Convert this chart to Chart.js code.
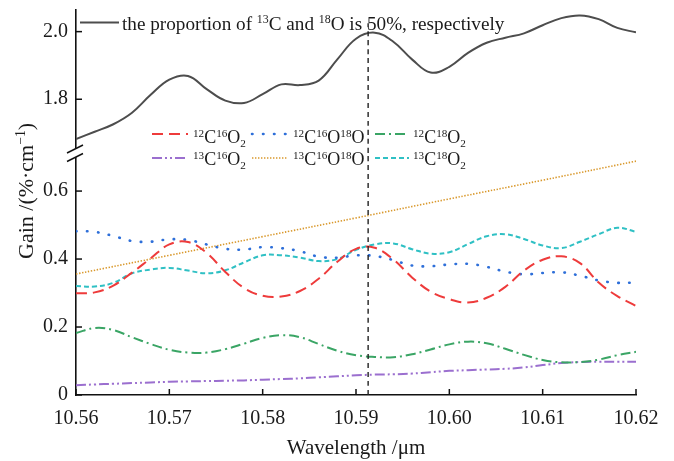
<!DOCTYPE html>
<html>
<head>
<meta charset="utf-8">
<script src="https://cdn.jsdelivr.net/npm/chart.js@4.4.0/dist/chart.umd.min.js"></script>
<style>
  html, body { margin: 0; padding: 0; background: #fff; }
</style>
</head>
<body>
<canvas id="gainChart" width="674" height="461"></canvas>
<script>
// Wavelength grid (µm) shared by the wavy curves
const wavelength = [10.560, 10.562, 10.564, 10.566, 10.568, 10.570, 10.572, 10.574, 10.576, 10.578,
                    10.580, 10.582, 10.584, 10.586, 10.588, 10.590, 10.592, 10.594, 10.596, 10.598,
                    10.600, 10.602, 10.604, 10.606, 10.608, 10.610, 10.612, 10.614, 10.616, 10.618, 10.620];

// total gain, 13C and 18O at 50% each
const gainMix = [1.682, 1.704, 1.726, 1.760, 1.813, 1.858, 1.869, 1.830, 1.796, 1.789,
                 1.815, 1.844, 1.842, 1.855, 1.918, 1.979, 1.997, 1.970, 1.918, 1.879,
                 1.896, 1.937, 1.967, 1.982, 1.995, 2.019, 2.040, 2.048, 2.037, 2.011, 1.998];

const gainC12O16 = [0.299, 0.302, 0.322, 0.360, 0.402, 0.443, 0.450, 0.418, 0.362, 0.315,
                    0.292, 0.290, 0.306, 0.342, 0.392, 0.430, 0.433, 0.399, 0.346, 0.304,
                    0.282, 0.272, 0.286, 0.318, 0.366, 0.398, 0.408, 0.388, 0.331, 0.291, 0.262];

const gainC12O16O18 = [0.482, 0.480, 0.468, 0.453, 0.451, 0.458, 0.456, 0.443, 0.430, 0.428,
                       0.435, 0.432, 0.423, 0.407, 0.404, 0.411, 0.409, 0.397, 0.381, 0.379,
                       0.384, 0.386, 0.377, 0.363, 0.355, 0.359, 0.361, 0.351, 0.337, 0.330, 0.331];

const gainC12O18 = [0.182, 0.197, 0.191, 0.170, 0.150, 0.133, 0.125, 0.125, 0.135, 0.151,
                    0.168, 0.176, 0.170, 0.150, 0.130, 0.117, 0.112, 0.111, 0.120, 0.134,
                    0.149, 0.157, 0.152, 0.136, 0.118, 0.103, 0.096, 0.097, 0.104, 0.117, 0.127];

const gainC13O16 = [0.029, 0.031, 0.033, 0.035, 0.037, 0.039, 0.040, 0.041, 0.042, 0.043,
                    0.045, 0.047, 0.049, 0.052, 0.055, 0.058, 0.060, 0.061, 0.063, 0.067,
                    0.071, 0.073, 0.075, 0.077, 0.081, 0.088, 0.094, 0.097, 0.098, 0.098, 0.098];

const gainC13O18 = [0.321, 0.319, 0.330, 0.358, 0.369, 0.374, 0.366, 0.358, 0.367, 0.390,
                    0.411, 0.411, 0.404, 0.394, 0.400, 0.427, 0.443, 0.446, 0.429, 0.416,
                    0.420, 0.444, 0.467, 0.473, 0.459, 0.440, 0.432, 0.451, 0.473, 0.492, 0.480];

// 13C16O18O is a straight line, read at the tick positions
const wavelengthC13O16O18 = [10.56, 10.57, 10.58, 10.59, 10.60, 10.61, 10.62];
const gainC13O16O18 = [0.356, 0.411, 0.466, 0.521, 0.577, 0.632, 0.688];

// marked wavelength (vertical dashed line)
const markerWavelength = 10.5913;

const wavelengthTicks = [10.56, 10.57, 10.58, 10.59, 10.60, 10.61, 10.62];
const gainTicksLow = [0, 0.2, 0.4, 0.6];
const gainTicksHigh = [1.8, 2.0];

const mixLabel = 'the proportion of ^{13}C and ^{18}O is 50%, respectively';
const speciesLabels = ['^{12}C^{16}O_{2}', '^{12}C^{16}O^{18}O', '^{12}C^{18}O_{2}',
                       '^{13}C^{16}O_{2}', '^{13}C^{16}O^{18}O', '^{13}C^{18}O_{2}'];

const serif = '"Liberation Serif", "Times New Roman", serif';
Chart.defaults.font.family = serif;

const toPoints = (xs, ys) => xs.map((x, i) => ({ x: x, y: ys[i] }));

// line styles of the six species, in legend order
const species = [
  { data: gainC12O16,    color: '#ee3b3b', dash: [11, 6],            width: 2 },
  { data: gainC12O16O18, color: '#2e6fd9', dash: [0.5, 10.5],        width: 2.6, cap: 'round' },
  { data: gainC12O18,    color: '#3aa565', dash: [10, 4, 2, 4],      width: 2 },
  { data: gainC13O16,    color: '#9b6fcf', dash: [10, 3, 2, 3, 2, 3], width: 2 },
  { data: null,          color: '#d9982b', dash: [1.4, 1.6],         width: 1.6 },
  { data: gainC13O18,    color: '#2fc0c4', dash: [5, 3],             width: 2 },
];

// split "^{..}" / "_{..}" markup into text runs
function parseRich(str) {
  const runs = [];
  const re = /([\^_])\{([^}]*)\}|([^\^_]+)/g;
  let m;
  while ((m = re.exec(str))) {
    if (m[3]) runs.push({ t: m[3], k: 'n' });
    else runs.push({ t: m[2], k: m[1] === '^' ? 'sup' : 'sub' });
  }
  return runs;
}

function drawRich(ctx, str, x, y, size) {
  const small = size * 0.62;
  for (const r of parseRich(str)) {
    const fs = r.k === 'n' ? size : small;
    const dy = r.k === 'sup' ? -size * 0.36 : (r.k === 'sub' ? size * 0.2 : 0);
    ctx.font = fs + 'px ' + serif;
    ctx.fillText(r.t, x, y + dy);
    x += ctx.measureText(r.t).width;
  }
  return x;
}

function strokeLine(ctx, x0, y0, x1, y1) {
  ctx.beginPath();
  ctx.moveTo(x0, y0);
  ctx.lineTo(x1, y1);
  ctx.stroke();
}

// inward ticks, axis break, y title and the two legends
const decorations = {
  id: 'decorations',
  afterDraw(chart) {
    const ctx = chart.ctx;
    const sx = chart.scales.x, low = chart.scales.yLow, high = chart.scales.yHigh;
    ctx.save();
    ctx.strokeStyle = '#111';
    ctx.lineWidth = 1.5;
    sx.ticks.forEach(t => {
      const px = sx.getPixelForValue(t.value);
      strokeLine(ctx, px, sx.top, px, sx.top - 6);
    });
    [low, high].forEach(s => s.ticks.forEach(t => {
      const py = s.getPixelForValue(t.value);
      strokeLine(ctx, s.right, py, s.right + 6, py);
    }));

    // axis break
    const ax = low.right, yb = low.top;
    ctx.fillStyle = '#fff';
    ctx.fillRect(ax - 2, yb - 4, 4, 8);
    ctx.lineWidth = 1.4;
    strokeLine(ctx, ax - 9, yb, ax + 7, yb - 8);
    strokeLine(ctx, ax - 9, yb + 8.5, ax + 7, yb + 0.5);

    // y title
    ctx.fillStyle = '#1a1a1a';
    ctx.textBaseline = 'alphabetic';
    ctx.save();
    ctx.translate(33, 259);
    ctx.rotate(-Math.PI / 2);
    drawRich(ctx, 'Gain /(%·cm^{−1})', 0, 0, 22);
    ctx.restore();

    // legend of the total gain
    ctx.setLineDash([]);
    ctx.strokeStyle = '#4d4d4d';
    ctx.lineWidth = 2;
    strokeLine(ctx, 80, 22.5, 119, 22.5);
    drawRich(ctx, mixLabel, 122, 30, 19.2);

    // legend of the species
    const cols = [[152, 188, 193], [252, 288, 293], [375, 409, 413]];
    const rows = [[134, 143], [158, 165]];
    species.forEach((sp, i) => {
      const c = cols[i % 3], r = rows[Math.floor(i / 3)];
      ctx.strokeStyle = sp.color;
      ctx.lineWidth = sp.width;
      ctx.lineCap = sp.cap || 'butt';
      ctx.setLineDash(sp.dash);
      strokeLine(ctx, c[0], r[0], c[1], r[0]);
      ctx.setLineDash([]);
      ctx.lineCap = 'butt';
      drawRich(ctx, speciesLabels[i], c[2], r[1], 18);
    });
    ctx.restore();
  }
};

const datasets = [
  { data: [{ x: markerWavelength, y: 0 }, { x: markerWavelength, y: 0.712 }], yAxisID: 'yLow',
    borderColor: '#222', borderWidth: 1.4, borderDash: [5, 4] },
  { data: [{ x: markerWavelength, y: 1.641 }, { x: markerWavelength, y: 2.025 }], yAxisID: 'yHigh',
    borderColor: '#222', borderWidth: 1.4, borderDash: [5, 4] },
  { data: toPoints(wavelength, gainMix), yAxisID: 'yHigh', borderColor: '#4d4d4d', borderWidth: 2 },
];
species.forEach(sp => {
  datasets.push({
    data: sp.data ? toPoints(wavelength, sp.data) : toPoints(wavelengthC13O16O18, gainC13O16O18),
    yAxisID: 'yLow',
    borderColor: sp.color,
    borderWidth: sp.width,
    borderDash: sp.dash,
    borderCapStyle: sp.cap || 'butt',
  });
});

const tickFont = { size: 20 };
const yAxis = (min, max, weight, tickValues) => ({
  type: 'linear',
  position: 'left',
  stack: 'gain',
  stackWeight: weight,
  min: min,
  max: max,
  afterBuildTicks: s => { s.ticks = tickValues.map(v => ({ value: v })); },
  // fixed width, and no extra room for label overflow at the ends
  afterFit: s => { s.width = 76; s.paddingTop = 0; s.paddingBottom = 0; },
  ticks: { font: tickFont, color: '#1a1a1a', padding: 8,
           callback: v => (v === 0 ? '0' : v.toFixed(1)) },
  grid: { drawOnChartArea: false, drawTicks: false },
  border: { color: '#111', width: 1.6 },
});

new Chart(document.getElementById('gainChart'), {
  type: 'line',
  data: { datasets: datasets },
  options: {
    responsive: false,
    animation: false,
    devicePixelRatio: 1,
    layout: { padding: { top: 10, right: 38, left: 0, bottom: 0 } },
    elements: { point: { radius: 0 }, line: { tension: 0.4, fill: false } },
    plugins: { legend: { display: false }, tooltip: { enabled: false } },
    scales: {
      x: {
        type: 'linear',
        min: 10.56,
        max: 10.62,
        afterBuildTicks: s => { s.ticks = wavelengthTicks.map(v => ({ value: v })); },
        afterFit: s => { s.height = 66; },
        ticks: { font: tickFont, color: '#1a1a1a', padding: 12, maxRotation: 0, autoSkip: false,
                 callback: v => v.toFixed(2) },
        grid: { drawOnChartArea: false, drawTicks: false },
        border: { color: '#111', width: 1.6 },
        title: { display: true, text: 'Wavelength /μm', color: '#1a1a1a',
                 font: { size: 21 }, padding: { top: 0, bottom: 0 } },
      },
      yLow: yAxis(0, 0.712, 242, gainTicksLow),
      yHigh: yAxis(1.641, 2.064, 143, gainTicksHigh),
    },
  },
  plugins: [decorations],
});
</script>
</body>
</html>
